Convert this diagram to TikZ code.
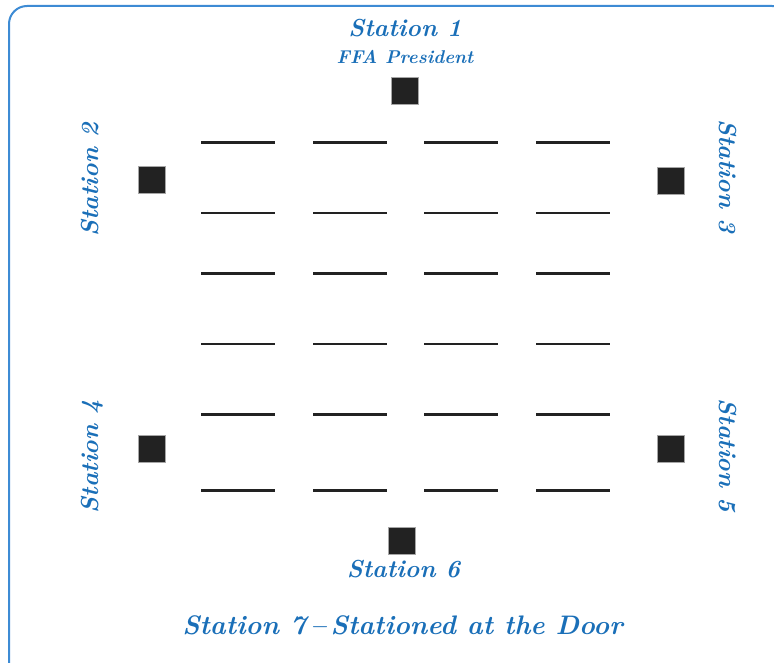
\documentclass[tikz,border=0pt]{standalone}
\usepackage{fontspec}
\definecolor{frameblue}{HTML}{3D8BD4}
\definecolor{textblue}{HTML}{1A6FB8}
\definecolor{ink}{HTML}{222222}
\begin{document}
\begin{tikzpicture}[x=1pt,y=-1pt,
  label/.style={text=textblue,font=\fontsize{24.6}{26}\selectfont\bfseries\itshape,inner sep=0pt,anchor=base},
  biglabel/.style={label,font=\fontsize{26.8}{28}\selectfont\bfseries\itshape},
  sublabel/.style={text=textblue,font=\fontsize{18.5}{20}\selectfont\bfseries\itshape,inner sep=0pt,anchor=base},
  station/.style={fill=ink,draw=gray!70,line width=0.6pt,minimum size=27pt,inner sep=0pt},
  thickdesk/.style={draw=ink,line width=3pt},
  thindesk/.style={draw=ink,line width=2pt}]
\useasboundingbox (0,0) rectangle (774,663);
\begin{scope}
\clip (0,0) rectangle (774,663);
\draw[frameblue,line width=2pt,rounded corners=18pt] (9,6) rectangle (790,682);
\end{scope}
% desks
\foreach \xa in {201,313,424,536}{
  \foreach \yy in {143,274,414,490}{\draw[thickdesk] (\xa,\yy) -- ++(74,0);}
  \foreach \yy in {213,344}{\draw[thindesk] (\xa,\yy) -- ++(74,0);}
}
% stations
\node[station] (s1) at (405,90.5) {};
\node[station] (s2) at (152,180) {};
\node[station] (s3) at (671,180.5) {};
\node[station] (s4) at (152,448.5) {};
\node[station] (s5) at (671,448.5) {};
\node[station] (s6) at (402,540.5) {};
% labels
\node[label] (t1) at (405,37) {Station 1};
\node[sublabel] (t1b) at (405,64) {FFA President};
\node[label,rotate=90] (t2) at (98,180) {Station 2};
\node[label,rotate=-90] (t3) at (719,176) {Station 3};
\node[label,rotate=90] (t4) at (98,456.5) {Station 4};
\node[label,rotate=-90] (t5) at (719,455.5) {Station 5};
\node[label] (t6) at (403.5,577) {Station 6};
\node[biglabel] (t7) at (402.5,634) {Station 7\,--\,Stationed at the Door};
\end{tikzpicture}
\end{document}
